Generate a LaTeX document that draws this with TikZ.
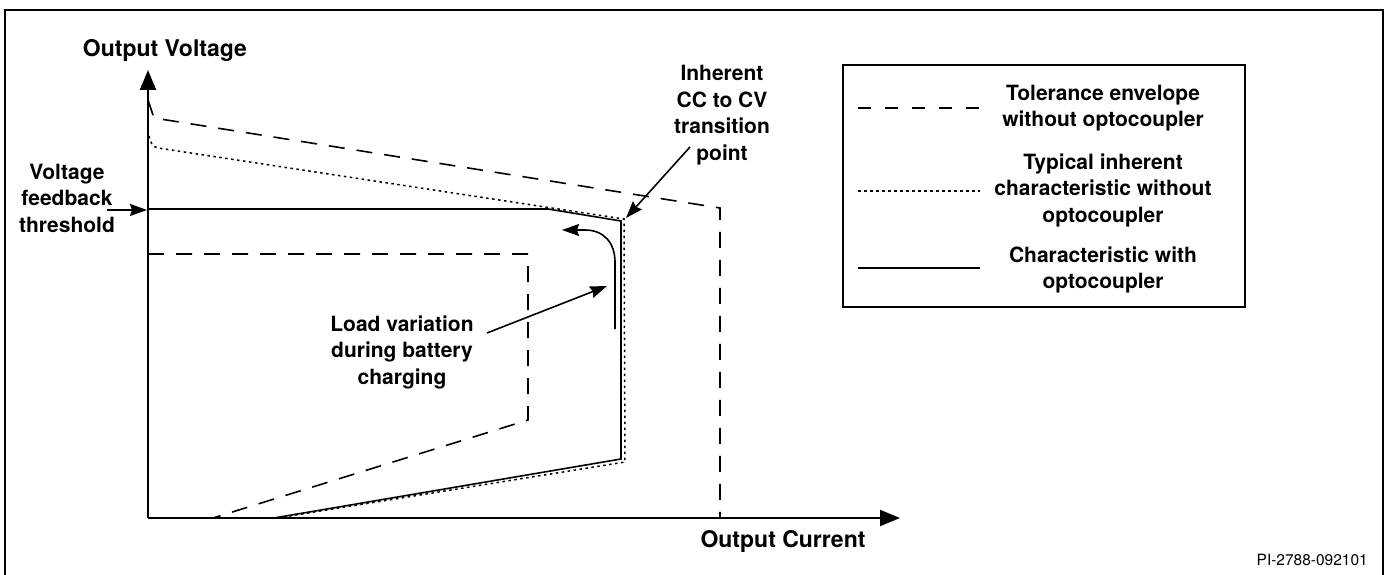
\documentclass[tikz,border=0pt]{standalone}
\usepackage{fontspec}
\setmainfont{TeX Gyre Heros}
\usetikzlibrary{arrows.meta}
\begin{document}
\begin{tikzpicture}[x=1pt,y=-1pt,
  lbl/.style={font=\fontsize{21}{26.5}\selectfont\bfseries, inner sep=0pt, align=center},
  axlbl/.style={font=\fontsize{23}{28}\selectfont\bfseries, inner sep=0pt},
  axisline/.style={line width=2pt, -{Triangle[length=20pt,width=16pt]}},
  ptr/.style={line width=1.6pt, -{Stealth[length=17pt,width=12pt,inset=2pt]}},
  envl/.style={line width=1.6pt, dash pattern=on 16pt off 12pt},
  typ/.style={line width=1.5pt, dash pattern=on 2.5pt off 3.5pt},
  withopto/.style={line width=1.6pt},
  frameline/.style={line width=2.4pt},
]
\useasboundingbox (0,0) rectangle (1387,575);
\clip (0,0) rectangle (1387,575);
% outer frame
\draw[frameline] (5,10) rectangle (1383,580);

% axes
\coordinate (O) at (148,518);
\coordinate (ytip) at (148,70);
\coordinate (xtip) at (900,518);
\draw[axisline] (O) -- (ytip);
\draw[axisline] (O) -- (xtip);
\node[axlbl, anchor=base] (ylab) at (165,57) {Output Voltage};
\node[axlbl, anchor=base] (xlab) at (783,547) {Output Current};

% curves
\draw[envl] (148,100) -- (154,118) -- (720,208) -- (720,518);
\draw[envl] (148,254) -- (528,254) -- (528,420) -- (213,518);
\draw[typ] (148,130) .. controls (150,142) and (152,147) .. (158,148) -- (624,219) -- (625,462) -- (277,518);
\draw[withopto] (148,209) -- (548,209) -- (621,221) -- (621,459) -- (274,518);

% voltage feedback threshold
\node[lbl] (vft) at (67,198) {Voltage\\feedback\\threshold};
\coordinate (vftA) at (107,210);
\coordinate (vftB) at (147,210);
\draw[ptr] (vftA) -- (vftB);

% transition point
\node[lbl] (inh) at (722,115) {Inherent\\CC to CV\\transition\\point};
\coordinate (tpA) at (690,147);
\coordinate (tpB) at (626,218);
\draw[ptr] (tpA) -- (tpB);

% load variation
\node[lbl] (load) at (402,352) {Load variation\\during battery\\charging};
\coordinate (ldA) at (487,333);
\coordinate (ldB) at (607,286);
\draw[ptr] (ldA) -- (ldB);
\coordinate (cvA) at (615,329);
\coordinate (cvB) at (562,230);
\draw[ptr] (cvA) -- (615,262) .. controls (615,243) and (604,230) .. (585,230) -- (cvB);

% legend
\draw[line width=2pt] (843,65) rectangle (1245,307);
\draw[line width=1.5pt, dash pattern=on 13pt off 14pt] (858,108) -- (980,108);
\draw[typ] (858,191) -- (980,191);
\draw[withopto] (858,268) -- (980,268);
\node[lbl] (lg1) at (1103,108) {Tolerance envelope\\without optocoupler};
\node[lbl] (lg2) at (1103,190) {Typical inherent\\characteristic without\\optocoupler};
\node[lbl] (lg3) at (1103,270) {Characteristic with\\optocoupler};

\node[font=\fontsize{15.5}{18}\selectfont, inner sep=0pt, anchor=base east] (pi) at (1368,565) {PI-2788-092101};
\end{tikzpicture}
\end{document}
